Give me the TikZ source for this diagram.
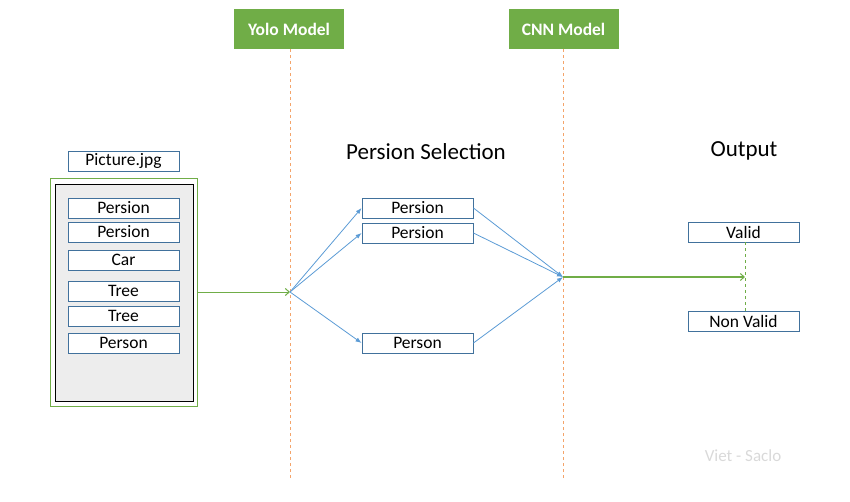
\documentclass[tikz,border=0pt]{standalone}
\usepackage{fontspec}
\setmainfont{Carlito}
\usepackage{tikz}
\usetikzlibrary{arrows.meta,calc}
\definecolor{boxblue}{HTML}{41719C}
\definecolor{lineblue}{HTML}{5B9BD5}
\definecolor{modelgreen}{HTML}{70AD47}
\definecolor{dashorange}{HTML}{F4A46A}
\definecolor{panelgrey}{HTML}{EDEDED}
\tikzset{
  itembox/.style={draw=boxblue, line width=0.9pt, minimum width=111pt, minimum height=20pt,
    inner sep=0pt, font=\fontsize{17.5}{19}\selectfont},
  modelbox/.style={fill=modelgreen, minimum width=110pt, minimum height=40pt, inner sep=0pt,
    text=white, font=\fontsize{17.5}{19}\selectfont\bfseries},
  title/.style={font=\fontsize{23}{26}\selectfont},
  timeline/.style={dashorange, dashed, line width=1pt},
  sel/.style={lineblue, line width=0.8pt, -{Latex[length=6pt,width=4.5pt]}},
  flow/.style={modelgreen, line width=1pt, -{Straight Barb[length=4pt,width=7pt]}},
}
\begin{document}
\begin{tikzpicture}[x=1pt,y=-1pt]
\useasboundingbox (0,0) rectangle (850,502);

% models
\node[modelbox] (yolo) at (289,29) {Yolo Model};
\node[modelbox] (cnn) at (563.5,29) {CNN Model};
\coordinate (yoloend) at (290,480);
\coordinate (cnnend) at (563,480);
\draw[timeline] (yolo.south -| yoloend) -- (yoloend);
\draw[timeline] (cnn.south -| cnnend) -- (cnnend);
\coordinate (yin) at (290,292);
\coordinate (cin) at (563,277);

% input picture
\node[itembox] (pic) at (123.5,161) {Picture.jpg};
\draw[modelgreen, line width=1pt] (50,179) rectangle (197,406);
\draw[fill=panelgrey, line width=0.9pt] (55,184) rectangle (193,401);
\node[itembox, fill=white] (in1) at (123.5,208) {Persion};
\node[itembox, fill=white] (in2) at (123.5,232) {Persion};
\node[itembox, fill=white] (in3) at (123.5,260) {Car};
\node[itembox, fill=white] (in4) at (123.5,291) {Tree};
\node[itembox, fill=white] (in5) at (123.5,316) {Tree};
\node[itembox, fill=white] (in6) at (123.5,343) {Person};
\coordinate (picout) at (197,292);
\draw[flow] (picout) -- (yin);

% selection
\node[title] (seltitle) at (426,152) {Persion Selection};
\node[itembox] (sel1) at (417.5,208) {Persion};
\node[itembox] (sel2) at (417.5,233) {Persion};
\node[itembox] (sel3) at (417.5,343) {Person};
\foreach \s in {sel1,sel2,sel3}{
  \draw[sel] (yin) -- (\s.west);
  \draw[sel] (\s.east) -- (cin);
}

% output
\node[title] (outtitle) at (744,151) {Output};
\node[itembox] (valid) at (743.5,232) {Valid};
\node[itembox] (nonvalid) at (743.5,321) {Non Valid};
\draw[modelgreen, dashed, line width=1pt] ($(valid.south)+(1.5,0)$) -- ($(nonvalid.north)+(1.5,0)$);
\coordinate (outend) at (745,277);
\draw[flow] (cin) -- (outend);

\node[text=black!15, font=\fontsize{17}{19}\selectfont] (sign) at (743,456) {Viet - Saclo};
\end{tikzpicture}
\end{document}
